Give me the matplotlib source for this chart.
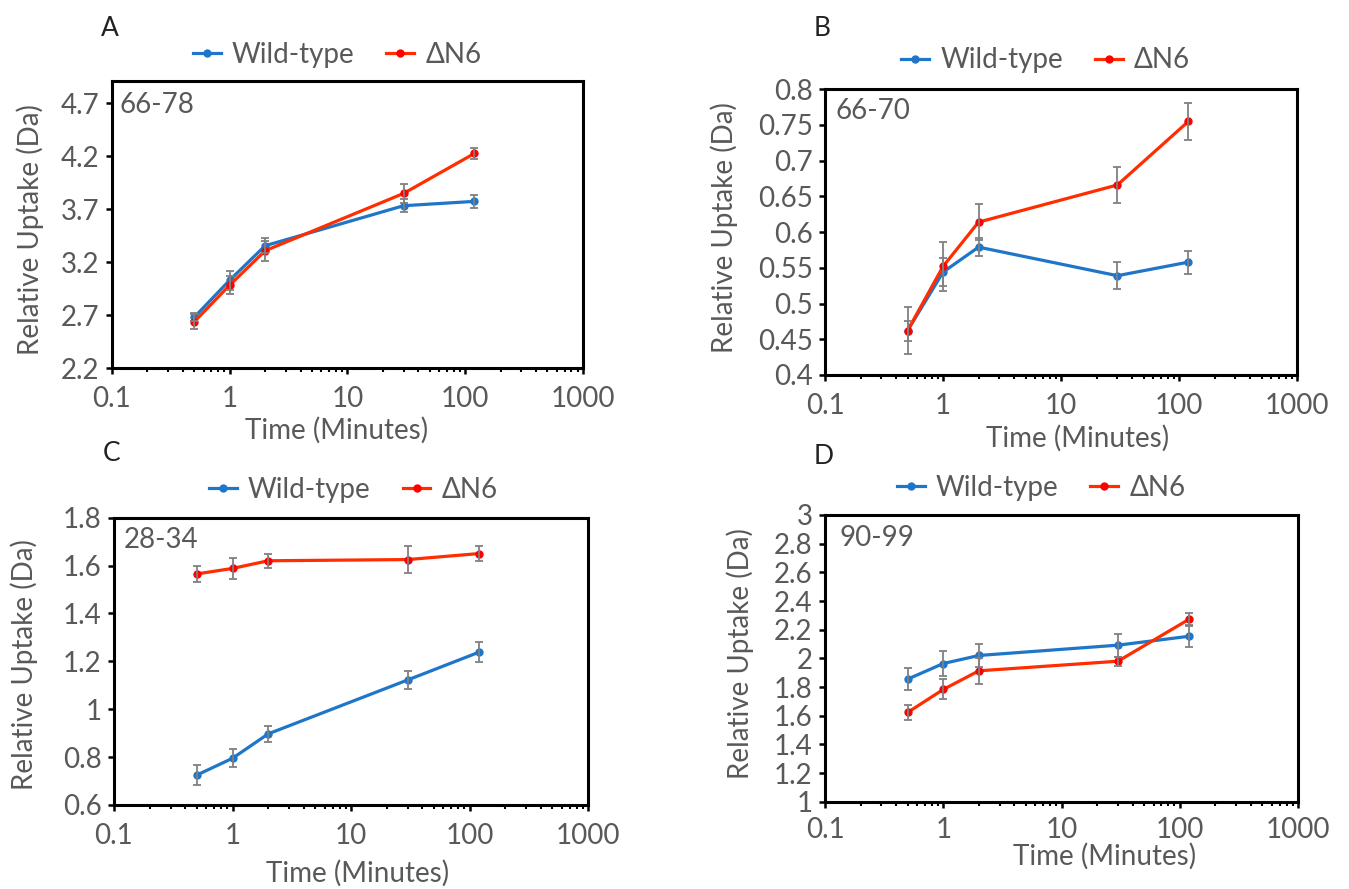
import numpy as np
import matplotlib
matplotlib.use("Agg")
import matplotlib.pyplot as plt
from matplotlib.ticker import FixedLocator, LogLocator, NullFormatter

# ---------------------------
# DATA
# ---------------------------
time_min = [0.5, 1, 2, 30, 120]
series_names = ["Wild-type", "\u0394N6"]

a_wt = [2.68, 3.03, 3.355, 3.733, 3.774]
a_wt_err = [0.04, 0.09, 0.07, 0.063, 0.06]
a_dn6 = [2.637, 2.983, 3.308, 3.849, 4.227]
a_dn6_err = [0.07, 0.085, 0.094, 0.088, 0.054]

b_wt = [0.462, 0.544, 0.579, 0.539, 0.558]
b_wt_err = [0.014, 0.02, 0.013, 0.019, 0.016]
b_dn6 = [0.462, 0.552, 0.614, 0.666, 0.755]
b_dn6_err = [0.033, 0.034, 0.025, 0.025, 0.026]

c_wt = [0.725, 0.795, 0.897, 1.122, 1.238]
c_wt_err = [0.04, 0.037, 0.033, 0.038, 0.042]
c_dn6 = [1.565, 1.588, 1.620, 1.625, 1.650]
c_dn6_err = [0.035, 0.045, 0.03, 0.056, 0.03]

d_wt = [1.855, 1.964, 2.02, 2.092, 2.154]
d_wt_err = [0.075, 0.088, 0.08, 0.08, 0.078]
d_dn6 = [1.623, 1.783, 1.913, 1.98, 2.273]
d_dn6_err = [0.05, 0.07, 0.09, 0.03, 0.045]

panel_letters = ["A", "B", "C", "D"]
peptides = ["66-78", "66-70", "28-34", "90-99"]
y_ticks = [
    [2.2, 2.7, 3.2, 3.7, 4.2, 4.7],
    [0.4, 0.45, 0.5, 0.55, 0.6, 0.65, 0.7, 0.75, 0.8],
    [0.6, 0.8, 1.0, 1.2, 1.4, 1.6, 1.8],
    [1.0, 1.2, 1.4, 1.6, 1.8, 2.0, 2.2, 2.4, 2.6, 2.8, 3.0],
]
y_limits = [(2.2, 4.91), (0.4, 0.8), (0.6, 1.8), (1.0, 3.0)]
x_ticks = [0.1, 1, 10, 100, 1000]

# ---------------------------
# STYLE / LAYOUT
# ---------------------------
plt.rcParams["font.family"] = ["Lato", "DejaVu Sans"]
TXT = "#595959"
BLUE = "#1f76c8"
RED_LINE = "#ff2d00"
RED_MARK = "#ff0000"
ERR = "#808080"

axes_rects = [
    [0.0830, 0.5860, 0.3491, 0.3228],
    [0.6116, 0.5782, 0.3499, 0.3214],
    [0.0845, 0.0945, 0.3514, 0.3232],
    [0.6116, 0.0982, 0.3506, 0.3225],
]
legend_pos = [(0.478, 1.091), (0.467, 1.101), (0.505, 1.098), (0.457, 1.094)]
letter_pos = [(110, 29), (822, 29), (112, 453), (824, 457)]
ylabel_pos = [(-0.174, 0.484), (-0.214, 0.516), (-0.19, 0.49), (-0.18, 0.515)]
xlabel_pos = [(0.477, -0.216), (0.534, -0.22), (0.514, -0.237), (0.592, -0.19)]
pep_pos = [(0.016, 0.916), (0.023, 0.923), (0.021, 0.923), (0.03, 0.92)]
x_pads = [9, 9, 9, 7]

wt_sets = [(a_wt, a_wt_err), (b_wt, b_wt_err), (c_wt, c_wt_err), (d_wt, d_wt_err)]
dn6_sets = [(a_dn6, a_dn6_err), (b_dn6, b_dn6_err), (c_dn6, c_dn6_err), (d_dn6, d_dn6_err)]

fig = plt.figure(figsize=(13.49, 8.89), dpi=100)
W, H = 1349, 889

for i in range(4):
    ax = fig.add_axes(axes_rects[i])
    wt, wt_err = wt_sets[i]
    dn, dn_err = dn6_sets[i]

    ax.plot(time_min, wt, "-o", color=BLUE, lw=2.3, ms=5, label=series_names[0], zorder=3)
    ax.plot(time_min, dn, "-o", color=RED_LINE, mfc=RED_MARK, mec=RED_MARK, lw=2.3, ms=5,
            label=series_names[1], zorder=3)
    ax.errorbar(time_min, wt, yerr=wt_err, fmt="none", ecolor=ERR, elinewidth=1.3,
                capsize=3, capthick=1.3, zorder=4)
    ax.errorbar(time_min, dn, yerr=dn_err, fmt="none", ecolor=ERR, elinewidth=1.3,
                capsize=3, capthick=1.3, zorder=4)

    ax.set_xscale("log")
    ax.set_xlim(0.1, 1000)
    ax.xaxis.set_major_locator(FixedLocator(x_ticks))
    ax.set_xticklabels([f"{t:g}" for t in x_ticks])
    ax.xaxis.set_minor_locator(LogLocator(base=10, subs=np.arange(2, 10)))
    ax.xaxis.set_minor_formatter(NullFormatter())

    ax.set_ylim(*y_limits[i])
    ax.set_yticks(y_ticks[i])
    ax.set_yticklabels([f"{v:g}" for v in y_ticks[i]])

    for s in ax.spines.values():
        s.set_linewidth(2.2)
        s.set_color("black")
    ax.tick_params(axis="both", which="major", direction="out", length=4, width=1.8,
                   labelsize=20, labelcolor=TXT, color="black")
    ax.tick_params(axis="x", which="major", pad=x_pads[i])
    ax.tick_params(axis="y", which="major", pad=5)
    ax.tick_params(axis="x", which="minor", direction="out", length=3, width=1.5, color="black")

    ax.set_xlabel("Time (Minutes)", fontsize=20, color=TXT)
    ax.set_ylabel("Relative Uptake (Da)", fontsize=20, color=TXT)
    ax.xaxis.set_label_coords(*xlabel_pos[i])
    ax.yaxis.set_label_coords(*ylabel_pos[i])
    ax.xaxis.label.set_verticalalignment("center")
    ax.yaxis.label.set_verticalalignment("center")

    ax.text(pep_pos[i][0], pep_pos[i][1], peptides[i], transform=ax.transAxes,
            fontsize=20, color=TXT, ha="left", va="center")

    leg = ax.legend(loc="center", bbox_to_anchor=legend_pos[i], ncol=2, frameon=False,
                    fontsize=20, handlelength=1.0, handletextpad=0.4, columnspacing=1.15,
                    borderaxespad=0, borderpad=0)
    for t in leg.get_texts():
        t.set_color(TXT)

    fig.text(letter_pos[i][0] / W, 1 - letter_pos[i][1] / H, panel_letters[i],
             fontsize=19, color="#222222", ha="center", va="center")

fig.savefig("out.png", dpi=100)
